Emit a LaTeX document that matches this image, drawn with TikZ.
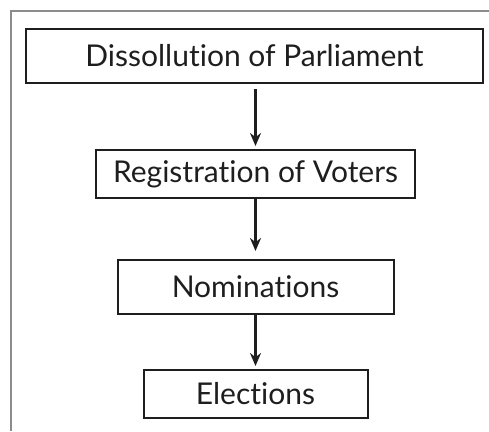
\documentclass[tikz,border=0pt]{standalone}
\usepackage{fontspec}
\setmainfont{Lato}[Ligatures={NoCommon,NoRare}]
\usepackage{tikz}
\usetikzlibrary{arrows.meta}
\definecolor{inkgray}{HTML}{1E1E1E}
\definecolor{framegray}{HTML}{8C8C8C}
\tikzset{
  stage-box/.style={draw=inkgray, line width=2pt, inner sep=0pt,
    font=\fontsize{30}{34}\selectfont, text=inkgray},
  stage-arrow/.style={-{Stealth[length=13pt, width=11pt]}, draw=inkgray, line width=2.4pt}
}

\begin{document}
\begin{tikzpicture}[x=1pt, y=1pt]
  \useasboundingbox (0,0) rectangle (489,431);

  % Open frame (top and left edges only)
  \draw[framegray, line width=1.2pt] (489,420) -- (11,420) -- (11,0);

  % Stages
  \node[stage-box, minimum width=457pt, minimum height=54pt] (dissolution) at (254.5,375) {Dissollution of Parliament};
  \node[stage-box, minimum width=319pt, minimum height=48pt] (registration) at (255.5,257) {Registration of Voters};
  \node[stage-box, minimum width=276pt, minimum height=54pt] (nominations) at (255.5,144) {Nominations};
  \node[stage-box, minimum width=224pt, minimum height=48pt] (elections) at (255.5,37) {Elections};

  % Flow
  \draw[stage-arrow, shorten <=5pt, shorten >=3pt] (dissolution.south -| registration.north) -- (registration.north);
  \draw[stage-arrow, shorten >=8pt] (registration.south) -- (nominations.north);
  \draw[stage-arrow, shorten >=3pt] (nominations.south) -- (elections.north);
\end{tikzpicture}
\end{document}
